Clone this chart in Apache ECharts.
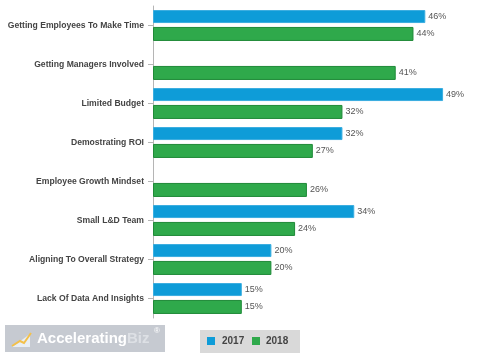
<!DOCTYPE html>
<html><head><meta charset="utf-8">
<script src="https://cdn.jsdelivr.net/npm/echarts@6/dist/echarts.min.js"></script>
<style>html,body{margin:0;padding:0;background:#fff}#c{width:500px;height:357px}</style>
</head><body><div id="c"></div>
<script>
const categories = ["Getting Employees To Make Time","Getting Managers Involved","Limited Budget","Demostrating ROI","Employee Growth Mindset","Small L&D Team","Aligning To Overall Strategy","Lack Of Data And Insights"];
const values2017 = [46, null, 49, 32, null, 34, 20, 15];
const values2018 = [44, 41, 32, 27, 26, 24, 20, 15];
const seriesNames = ["2017", "2018"];

const chart = echarts.init(document.getElementById('c'), null, {renderer:'canvas'});
const lbl = {show:true, position:'right', distance:3, formatter: p => p.value==null?'':p.value+'%', color:'#555', fontSize:9, fontFamily:'Liberation Sans, Arial'};
chart.setOption({
  animation:false,
  grid:{left:153, right:51, top:6, bottom:39, outerBoundsMode:'none', containLabel:false},
  xAxis:{type:'value', min:0, max:50, show:false},
  yAxis:{type:'category', data:categories, inverse:true,
    axisLine:{lineStyle:{color:'#b5b5b5'}},
    axisTick:{show:true, alignWithLabel:true, length:5, lineStyle:{color:'#b5b5b5'}},
    axisLabel:{color:'#444', fontSize:8.6, fontWeight:'bold', fontFamily:'Liberation Sans, Arial', margin:9}},
  legend:{show:false},
  series:[
    {name:seriesNames[0], type:'bar', data:values2017, barWidth:13, barGap:'30%', barCategoryGap:'25%',
     itemStyle:{color:'#0e9cd8', borderColor:'#3aaee0', borderWidth:1}, label:lbl},
    {name:seriesNames[1], type:'bar', data:values2018, barWidth:14,
     itemStyle:{color:'#2fa94b', borderColor:'#1f8a38', borderWidth:1}, label:lbl}
  ],
  graphic:[
    {type:'rect', shape:{x:5,y:325,width:160,height:27}, style:{fill:'#c6cad1'}},
    {type:'polygon', shape:{points:[[12,347],[30,334],[30,347]]}, style:{fill:'#e8eef5'}},
    {type:'polyline', shape:{points:[[12,346],[20,341],[24,343],[31,333]]}, style:{stroke:'#f3c04a', lineWidth:2, fill:null}},
    {type:'text', style:{x:37, y:339, text:'{a|Accelerating}{b|Biz}', verticalAlign:'middle',
      rich:{a:{fill:'#ffffff', font:'bold 15px Liberation Sans, Arial'}, b:{fill:'#dde0e5', font:'bold 15px Liberation Sans, Arial'}}}},
    {type:'text', style:{x:154, y:331, text:'®', fill:'#ffffff', font:'8px Liberation Sans, Arial', verticalAlign:'middle'}},
    {type:'rect', shape:{x:200,y:330,width:100,height:23}, style:{fill:'#d9d9d9'}},
    {type:'rect', shape:{x:207,y:337,width:8,height:8}, style:{fill:'#0e9cd8'}},
    {type:'text', style:{x:222, y:341, text:seriesNames[0], fill:'#444', font:'bold 10px Liberation Sans, Arial', verticalAlign:'middle'}},
    {type:'rect', shape:{x:252,y:337,width:8,height:8}, style:{fill:'#2fa94b'}},
    {type:'text', style:{x:266, y:341, text:seriesNames[1], fill:'#444', font:'bold 10px Liberation Sans, Arial', verticalAlign:'middle'}}
  ]
});
</script></body></html>
